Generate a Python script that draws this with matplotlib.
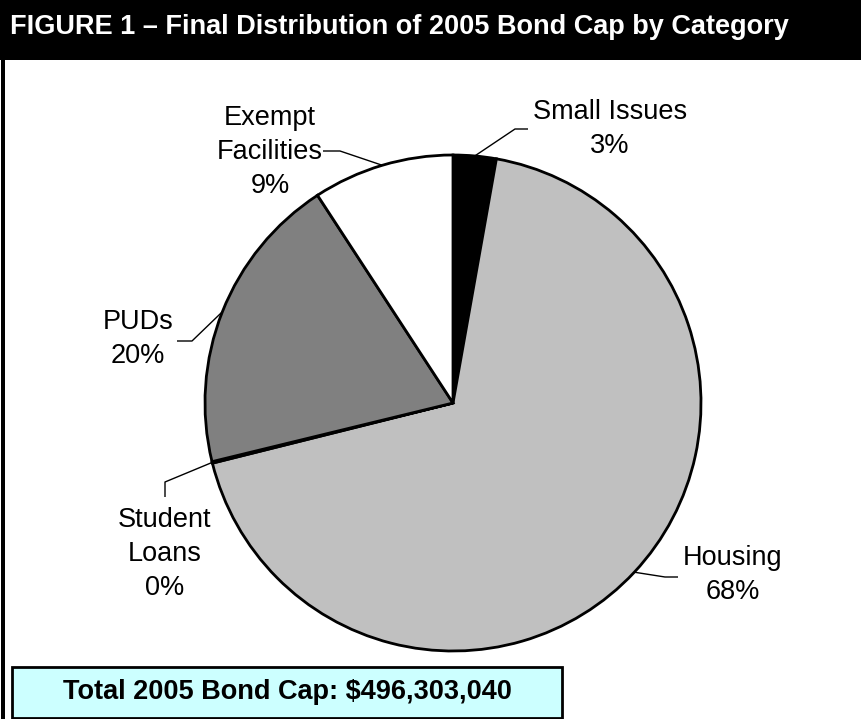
import numpy as np
import matplotlib
matplotlib.use("Agg")
import matplotlib.pyplot as plt
from matplotlib.patches import Rectangle

plt.rcParams['font.family'] = ['Liberation Sans', 'DejaVu Sans']

# data
categories = ["Small Issues", "Housing", "Student\nLoans", "PUDs", "Exempt\nFacilities"]
shares = [2.8, 68.3, 0.1, 19.6, 9.2]
pct_labels = ["3%", "68%", "0%", "20%", "9%"]
colors = ["#000000", "#C0C0C0", "#FFFFFF", "#808080", "#FFFFFF"]

title = "FIGURE 1 \u2013 Final Distribution of 2005 Bond Cap by Category"
total_text = "Total 2005 Bond Cap: $496,303,040"

W, H = 862, 719
fig = plt.figure(figsize=(W / 100, H / 100), dpi=100)
ax = fig.add_axes([0, 0, 1, 1])


def Y(y):
    # image row -> data y
    return H - y


cx, cy, r = 453, 403, 248
wedges, _ = ax.pie(shares, colors=colors, startangle=90, counterclock=False,
                   center=(cx, Y(cy)), radius=r,
                   wedgeprops=dict(edgecolor="black", linewidth=2))
ax.set_xlim(0, W)
ax.set_ylim(0, H)
ax.set_aspect("equal")
ax.axis("off")

# label layout (image coords): text center x, first line y, elbow, end of leader
layout = [
    (610, 112, (515, 129), (528, 129)),
    (733, 558, (665, 577), (678, 577)),
    (165, 520, (165, 482), (165, 497)),
    (138, 322, (192, 341), (177, 341)),
    (270, 118, (340, 151), (323, 151)),
]
for w, name, pct, (tx, ty, elbow, end) in zip(wedges, categories, pct_labels, layout):
    ang = np.deg2rad((w.theta1 + w.theta2) / 2)
    px = cx + r * np.cos(ang)
    py = Y(cy) + r * np.sin(ang)
    ax.plot([px, elbow[0], end[0]], [py, Y(elbow[1]), Y(end[1])],
            color="black", linewidth=1, solid_capstyle="butt")
    lines = name.split("\n") + [pct]
    for i, s in enumerate(lines):
        ax.text(tx, Y(ty + 34 * i), s, ha="center", va="center", fontsize=19.5)

# title bar and frame
ax.add_patch(Rectangle((0, Y(60)), W, 60, facecolor="black", edgecolor="none"))
ax.text(10, Y(27), title, color="white", fontsize=19.5, fontweight="bold",
        ha="left", va="center")
ax.add_patch(Rectangle((1, 0), 4, Y(60), facecolor="black", edgecolor="none"))

# total box
ax.add_patch(Rectangle((12, Y(718)), 550, 51, facecolor="#CCFFFF",
                       edgecolor="black", linewidth=2))
ax.text(287, Y(692), total_text, fontsize=19.5, fontweight="bold",
        ha="center", va="center")

fig.savefig("out.png", dpi=100)
